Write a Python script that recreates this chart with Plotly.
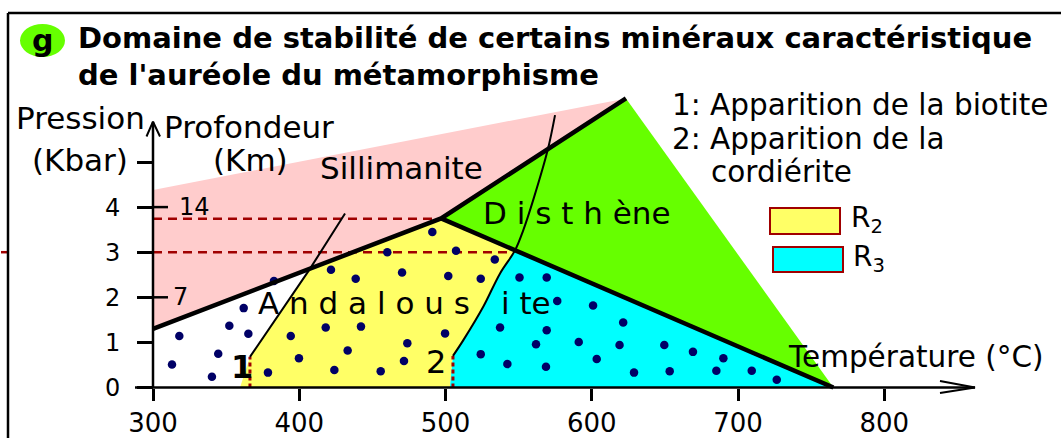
import plotly.graph_objects as go

W, H = 1061, 438

# ---- axis ticks ----
temp_ticks = [300, 400, 500, 600, 700, 800]
pres_ticks = [0, 1, 2, 3, 4, 5]
pres_tick_text = ["0", "1", "2", "3", "4", ""]
depth_tick_p = [2, 4]
depth_tick_text = ["7", "14"]

# ---- stability fields (T in °C, P in kbar) ----
sill_T = [300, 623.4, 497, 300]
sill_P = [4.38, 6.41, 3.75, 1.30]

ky_T = [623.4, 765.2, 497]
ky_P = [6.41, 0.0, 3.75]

# cordierite isograd (curve 2), bottom to top
iso2_T = [505.1, 512.2, 525.8, 537.3, 547.5, 553.2, 560.0, 569.9, 574.9]
iso2_P = [0.70, 1.05, 1.79, 2.53, 3.04, 3.49, 4.16, 5.27, 6.04]

# biotite isograd (curve 1), bottom to top
iso1_T = [366.3, 407.3, 431.3]
iso1_P = [0.68, 2.63, 3.86]

# zone R2 (between isograds 1 and 2) and zone R3 (beyond isograd 2)
r2_T = [359.5, 366.3, 407.3, 497, 547.5, 537.3, 525.8, 512.2, 505.1, 503.0]
r2_P = [0.0, 0.68, 2.63, 3.75, 3.04, 2.53, 1.79, 1.05, 0.70, 0.0]
r3_T = [503.0, 505.1, 512.2, 525.8, 537.3, 547.5, 765.2]
r3_P = [0.0, 0.70, 1.05, 1.79, 2.53, 3.04, 0.0]

# reaction lines meeting at the triple point
and_sil_T = [300, 497, 623.4]
and_sil_P = [1.30, 3.75, 6.41]
and_ky_T = [497, 765.2]
and_ky_P = [3.75, 0.0]

# isobars marked by dashes
isobar_P = [3.74, 3.0]
isobar_Tend = [497, 545]

# sample points
pts_T = [318.0, 313.0, 340.3, 344.6, 352.2, 365.2, 362.0, 382.7,
         421.7, 394.2, 418.1, 399.8, 378.6, 424.0, 433.1, 491.0, 460.2, 507.2,
         533.7, 438.6, 470.3, 501.9, 524.1, 442.2, 499.7, 473.9, 471.6, 455.7,
         550.6, 569.2, 576.4, 600.9, 621.5, 537.3, 569.2, 561.9, 591.1, 619.0,
         524.1, 542.3, 568.7, 603.4, 628.9, 649.6, 669.2, 690.0, 653.3, 685.2,
         709.4, 726.5]
pts_P = [1.14, 0.51, 0.24, 0.75, 1.37, 1.19, 1.76, 2.36,
         2.61, 1.14, 1.33, 0.65, 0.33, 0.39, 0.82, 3.45, 3.00, 3.03,
         2.84, 2.41, 2.55, 2.47, 2.41, 1.35, 1.20, 0.98, 0.59, 0.36,
         2.44, 2.44, 1.92, 1.82, 1.44, 1.33, 1.27, 0.96, 1.01, 0.94,
         0.74, 0.52, 0.46, 0.63, 0.33, 0.94, 0.79, 0.65, 0.36, 0.37,
         0.37, 0.17]

PINK = "#FFCCCC"
GREEN = "#66FF00"
YELLOW = "#FFFF66"
CYAN = "#00FFFF"
DOT = "#000066"
DRED = "#A00000"
FONT = "DejaVu Sans"

# pixel <-> data mapping of the diagram frame
X0PX, XSCALE = 153.0, 1.4625   # px of 300 °C, px per °C
Y0PX, YSCALE = 387.5, 45.1     # px of 0 kbar, px per kbar


def t_of(px):
    return 300 + (px - X0PX) / XSCALE


def p_of(py):
    return (Y0PX - py) / YSCALE


def px(x):
    return x / W


def py(y):
    return 1 - y / H


fig = go.Figure()


def poly(T, P, color):
    fig.add_trace(go.Scatter(x=T, y=P, mode="lines", fill="toself",
                             fillcolor=color, line=dict(width=0),
                             hoverinfo="skip", showlegend=False))


def line(T, P, width, color="black", dash=None, shape="linear"):
    fig.add_trace(go.Scatter(x=T, y=P, mode="lines",
                             line=dict(width=width, color=color, dash=dash,
                                       shape=shape),
                             hoverinfo="skip", showlegend=False))


poly(sill_T, sill_P, PINK)
poly(ky_T, ky_P, GREEN)
poly(r2_T, r2_P, YELLOW)
poly(r3_T, r3_P, CYAN)

# dashed isobars
for p, tend in zip(isobar_P, isobar_Tend):
    line([300, tend], [p, p], 2.5, DRED, dash="9px,6px")
line([t_of(1), t_of(8)], [3.0, 3.0], 2.5, DRED)

# vertical marks at the foot of the isograds
line([iso1_T[0], iso1_T[0]], [0, iso1_P[0]], 3, DRED, dash="4px,3px")
line([iso2_T[0], iso2_T[0]], [0, iso2_P[0]], 3, DRED, dash="4px,3px")

fig.add_trace(go.Scatter(x=pts_T, y=pts_P, mode="markers",
                         marker=dict(size=8.5, color=DOT, line=dict(width=0)),
                         hoverinfo="skip", showlegend=False))

# isograds
line(iso1_T, iso1_P, 2)
line(iso2_T, iso2_P, 2, shape="spline")

# reaction lines
line(and_sil_T, and_sil_P, 4.5)
line(and_ky_T, and_ky_P, 4.5)

# axes drawn with arrows
x_end = t_of(975)
line([t_of(135), x_end], [0, 0], 2.5)
line([t_of(940), x_end, t_of(940)], [p_of(381), 0, p_of(393)], 2)
y_end = p_of(121.7)
line([300, 300], [0, y_end], 2.5)
line([t_of(146.5), 300, t_of(160)], [p_of(136.5), y_end, p_of(136.5)], 2)

# depth ticks crossing the pressure axis
for p in depth_tick_p:
    line([300, t_of(168)], [p, p], 2.5)

fig.update_xaxes(range=[t_of(0), t_of(W)], showgrid=False, zeroline=False,
                 showline=False, anchor="free", position=(H - Y0PX) / H,
                 tickvals=temp_ticks, ticks="outside", ticklen=12,
                 tickwidth=2.5, tickcolor="black",
                 tickfont=dict(family=FONT, size=26, color="black"))
fig.update_yaxes(range=[p_of(H), p_of(0)], showgrid=False, zeroline=False,
                 showline=False, anchor="free", position=X0PX / W,
                 tickvals=pres_ticks, ticktext=pres_tick_text,
                 ticks="outside", ticklen=16, tickwidth=2.5,
                 tickcolor="black", ticklabelstandoff=12,
                 tickfont=dict(family=FONT, size=24, color="black"))

ann = []


def text(s, x, y, size, xanchor="left", bold=False, color="black"):
    if bold:
        s = "<b>" + s + "</b>"
    ann.append(dict(text=s, x=px(x), y=py(y), xref="paper", yref="paper",
                    xanchor=xanchor, yanchor="middle", showarrow=False,
                    font=dict(family=FONT, size=size, color=color)))


# heading
text("Domaine de stabilité de certains minéraux caractéristique", 76, 38, 29, bold=True)
text("de l'auréole du métamorphisme", 76, 75, 29, bold=True)
text("g", 42.5, 40, 30, xanchor="center", bold=True)

# axis titles
text("Pression", 80, 118, 31, xanchor="center")
text("(Kbar)", 80, 160, 31, xanchor="center")
text("Profondeur", 162, 127, 31)
text("(Km)", 211, 160, 31)
text("Température (°C)", 786, 357, 29.5)
for p, s in zip(depth_tick_p, depth_tick_text):
    text(s, 171 if s == "7" else 177, Y0PX - p * YSCALE, 24)

# field names
text("Sillimanite", 401, 168, 31, xanchor="center")
text("D i s t h ène", 481, 213, 31)
text("A n d a l o u s", 256, 303, 31)
text("i te", 499, 303, 31)
text("1", 242, 367, 32, xanchor="center", bold=True)
text("2", 436, 362, 32, xanchor="center")

# notes
text("1: Apparition de la biotite", 670, 105, 29.5)
text("2: Apparition de la", 670, 139, 29.5)
text("cordiérite", 709, 172, 29.5)

# key
text("R<sub>2</sub>", 849, 219, 28)
text("R<sub>3</sub>", 851, 258, 28)

shapes = [
    # frame
    dict(type="line", xref="paper", yref="paper", x0=px(8), x1=px(8),
         y0=py(13), y1=0, line=dict(color="black", width=2.5)),
    dict(type="line", xref="paper", yref="paper", x0=px(8), x1=1,
         y0=py(13), y1=py(13), line=dict(color="black", width=2.5)),
    # heading badge
    dict(type="circle", xref="paper", yref="paper", x0=px(20), x1=px(65),
         y0=py(57), y1=py(24), fillcolor=GREEN, line=dict(width=0),
         layer="below"),
    # key boxes
    dict(type="rect", xref="paper", yref="paper", x0=px(770), x1=px(840),
         y0=py(234), y1=py(208), fillcolor=YELLOW,
         line=dict(color=DRED, width=2)),
    dict(type="rect", xref="paper", yref="paper", x0=px(773), x1=px(843),
         y0=py(272), y1=py(247), fillcolor=CYAN,
         line=dict(color=DRED, width=2)),
]

fig.update_layout(width=W, height=H, margin=dict(l=0, r=0, t=0, b=0, pad=0),
                  paper_bgcolor="white", plot_bgcolor="white",
                  showlegend=False, annotations=ann, shapes=shapes)

fig.write_html("out.html")
